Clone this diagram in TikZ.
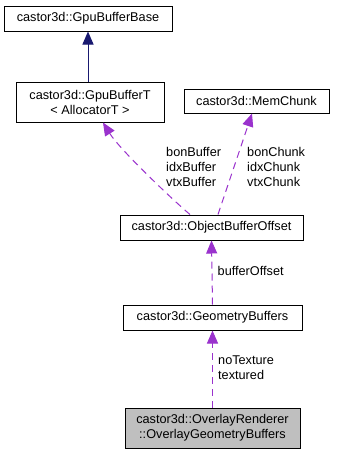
\documentclass[tikz,border=0pt]{standalone}
\usepackage{fontspec}
\setmainfont{Liberation Sans}
\usetikzlibrary{arrows.meta}
\definecolor{edgepurple}{HTML}{9A32CD}
\definecolor{edgenavy}{HTML}{191970}
\definecolor{boxgray}{HTML}{BFBFBF}
\begin{document}
\begin{tikzpicture}[x=1pt,y=-1pt,
  every node/.style={font=\fontsize{12.7}{15}\selectfont, inner sep=0pt},
  cls/.style={draw=black, line width=1pt, fill=white, align=center},
  usage/.style={draw=edgepurple, line width=1pt, dash pattern=on 7pt off 5pt,
    -{Triangle[length=13pt,width=11pt,fill=edgepurple]}, shorten >=0pt},
  inherit/.style={draw=edgenavy, line width=1pt,
    -{Triangle[length=13pt,width=11pt,fill=edgenavy]}},
  lbl/.style={align=left, anchor=west}
]
\useasboundingbox (0,0) rectangle (337,455);
\fill[white] (0,0) rectangle (337,455);

\node[cls, minimum width=168pt, minimum height=25pt] (base) at (88,18.5) {castor3d::GpuBufferBase};
\node[cls, minimum width=148pt, minimum height=40pt] (gpuT) at (90,102) {castor3d::GpuBufferT\\< AllocatorT >};
\node[cls, minimum width=145pt, minimum height=24pt] (mem) at (256.5,101) {castor3d::MemChunk};
\node[cls, minimum width=183pt, minimum height=25pt] (obj) at (211.5,227.5) {castor3d::ObjectBufferOffset};
\node[cls, minimum width=179pt, minimum height=25pt] (geo) at (212.5,317.5) {castor3d::GeometryBuffers};
\node[cls, fill=boxgray, minimum width=175pt, minimum height=40pt] (ovl) at (212.5,428) {castor3d::OverlayRenderer\\::OverlayGeometryBuffers};

\draw[inherit] ([xshift=-2pt]gpuT.north) -- (base.south);
\draw[usage] ([xshift=-21.5pt]obj.north) .. controls (175,202) and (120,150) .. ([xshift=13pt]gpuT.south);
\draw[usage] ([xshift=6.5pt]obj.north) -- ([xshift=-4.5pt]mem.south);
\draw[usage] (geo.north) -- (obj.south);
\draw[usage] (ovl.north) -- (geo.south);

\node[lbl] (l1) at (166,167) {bonBuffer\\idxBuffer\\vtxBuffer};
\node[lbl] (l2) at (247,167) {bonChunk\\idxChunk\\vtxChunk};
\node[lbl] (l3) at (217.5,271) {bufferOffset};
\node[lbl] (l4) at (218,367.5) {noTexture\\textured};
\end{tikzpicture}
\end{document}
